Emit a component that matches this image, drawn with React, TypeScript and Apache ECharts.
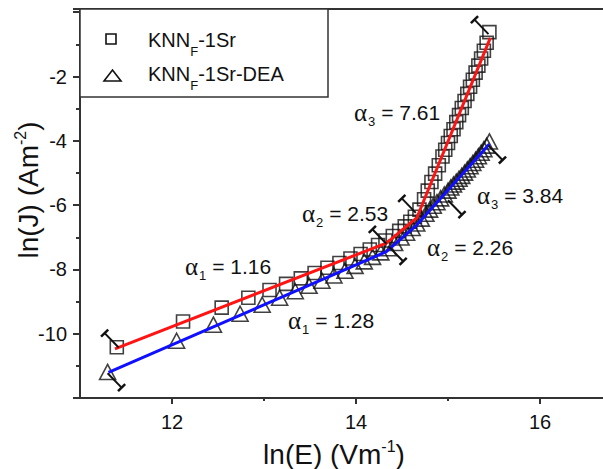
import React, { useEffect, useRef } from 'react';
import * as echarts from 'echarts';

// KNN_F-1Sr (squares)
const sqX = [11.40, 12.12, 12.54, 12.83, 13.06, 13.24, 13.40, 13.55, 13.69, 13.82, 13.94, 14.05, 14.15, 14.24, 14.32, 14.40, 14.47, 14.53, 14.59, 14.64, 14.69, 14.74, 14.78, 14.82, 14.86, 14.90, 14.94, 14.97, 15.00, 15.03, 15.06, 15.09, 15.12, 15.15, 15.18, 15.21, 15.24, 15.27, 15.30, 15.33, 15.36, 15.39, 15.42, 15.45];
const sqY = [-10.42, -9.62, -9.19, -8.88, -8.64, -8.45, -8.28, -8.11, -7.95, -7.80, -7.66, -7.52, -7.38, -7.24, -7.10, -6.96, -6.80, -6.66, -6.52, -6.36, -6.14, -5.82, -5.55, -5.28, -5.02, -4.76, -4.49, -4.28, -4.07, -3.85, -3.64, -3.42, -3.20, -2.98, -2.76, -2.54, -2.32, -2.10, -1.88, -1.66, -1.44, -1.20, -0.95, -0.62];

// KNN_F-1Sr-DEA (triangles)
const triX = [11.30, 12.05, 12.45, 12.74, 12.98, 13.17, 13.34, 13.49, 13.63, 13.76, 13.88, 13.99, 14.09, 14.18, 14.27, 14.35, 14.42, 14.49, 14.55, 14.61, 14.66, 14.71, 14.76, 14.80, 14.84, 14.88, 14.92, 14.96, 15.00, 15.03, 15.06, 15.09, 15.12, 15.15, 15.18, 15.21, 15.24, 15.27, 15.30, 15.33, 15.36, 15.39, 15.42, 15.45];
const triY = [-11.19, -10.22, -9.72, -9.38, -9.10, -8.88, -8.68, -8.51, -8.35, -8.19, -8.04, -7.89, -7.75, -7.61, -7.47, -7.34, -7.18, -7.01, -6.86, -6.71, -6.57, -6.42, -6.27, -6.14, -6.02, -5.91, -5.79, -5.67, -5.55, -5.45, -5.36, -5.27, -5.18, -5.09, -4.99, -4.89, -4.79, -4.69, -4.59, -4.48, -4.37, -4.26, -4.15, -4.02];

// piecewise linear fits
const redFitX = [11.38, 14.33, 14.66, 15.46];
const redFitY = [-10.47, -7.18, -6.40, -0.80];
const blueFitX = [11.31, 14.33, 14.66, 15.45];
const blueFitY = [-11.20, -7.45, -6.62, -4.10];

// fit-range markers
const redMarkX = [11.42, 14.33, 14.65, 15.44];
const redMarkY = [-10.43, -7.20, -6.24, -0.68];
const blueMarkX = [11.30, 14.36, 15.00, 15.44];
const blueMarkY = [-11.23, -7.30, -5.85, -4.15];

const xMajor = [12, 14, 16];
const xMinor = [13, 15];
const yLabels = [-10, -8, -6, -4, -2];

const SANS = 'Liberation Sans, Arial, sans-serif';
const SERIF = 'Liberation Serif, Times New Roman, serif';

const zip = (a: number[], b: number[]) => a.map((v, i) => [v, b[i]]);

function makeBar(api: any, dir: number) {
  const p = api.coord([api.value(0), api.value(1)]);
  const ux = 0.7 * dir;
  const uy = 0.72 * dir;
  const L = 20;
  const ex = p[0] + ux * L;
  const ey = p[1] + uy * L;
  const n = Math.hypot(ux, uy);
  const px = -uy / n;
  const py = ux / n;
  const h = 5;
  return {
    type: 'group',
    children: [
      { type: 'line', shape: { x1: p[0], y1: p[1], x2: ex, y2: ey }, style: { stroke: '#111', lineWidth: 2 } },
      { type: 'line', shape: { x1: ex - px * h, y1: ey - py * h, x2: ex + px * h, y2: ey + py * h }, style: { stroke: '#111', lineWidth: 2.5 } },
    ],
  };
}

function alphaText(sub: string, val: string, x: number, y: number) {
  return {
    type: 'text',
    x,
    y,
    z: 20,
    style: {
      text: `{a|α}{s|${sub}}{n| = ${val}}`,
      verticalAlign: 'middle',
      align: 'left',
      rich: {
        a: { fontFamily: SERIF, fontSize: 25, fill: '#111' },
        s: { fontFamily: SANS, fontSize: 13, fill: '#111', padding: [18, 0, 0, 1] },
        n: { fontFamily: SANS, fontSize: 21, fill: '#111' },
      },
    },
  };
}

export default function App() {
  const ref = useRef<HTMLDivElement>(null);
  useEffect(() => {
    document.body.style.margin = '0';
    if (!ref.current) return;
    const chart = echarts.init(ref.current, undefined, { renderer: 'svg' });
    const axisLineStyle = { color: '#333', width: 2 };
    const option: any = {
      animation: false,
      backgroundColor: '#fff',
      grid: {
        left: 80, top: 9, width: 552, height: 389, show: false,
        outerBoundsMode: 'none', containLabel: false,
      },
      xAxis: [
        {
          type: 'value', min: 11, max: 17, interval: 1, position: 'bottom',
          axisLine: { onZero: false, lineStyle: axisLineStyle },
          axisTick: { length: 6, lineStyle: axisLineStyle, customValues: xMajor },
          axisLabel: {
            customValues: xMajor, margin: 14, fontSize: 20, color: '#111', fontFamily: SANS,
            formatter: (v: number) => (xMajor.indexOf(v) >= 0 ? String(v) : ''),
          },
          splitLine: { show: false },
        },
        {
          type: 'value', min: 11, max: 17, interval: 1, position: 'bottom',
          axisLine: { show: false, onZero: false },
          axisTick: { length: 3, lineStyle: axisLineStyle, customValues: xMinor },
          axisLabel: { show: false },
          splitLine: { show: false },
        },
        {
          type: 'value', min: 11, max: 17, interval: 1, position: 'top',
          axisLine: { show: true, onZero: false, lineStyle: axisLineStyle },
          axisTick: { show: false },
          axisLabel: { show: false },
          splitLine: { show: false },
        },
      ],
      yAxis: {
        type: 'value', min: -12, max: 0.1, interval: 2,
        axisLine: { onZero: false, lineStyle: axisLineStyle },
        axisTick: { length: 7, lineStyle: axisLineStyle },
        minorTick: { show: true, splitNumber: 2, length: 4, lineStyle: axisLineStyle },
        axisLabel: {
          margin: 13, fontSize: 20, color: '#111', fontFamily: SANS,
          showMaxLabel: false,
          formatter: (v: number) => (yLabels.indexOf(v) >= 0 ? String(v) : ''),
        },
        splitLine: { show: false },
      },
      series: [
        {
          name: 'KNN_F-1Sr', type: 'scatter', data: zip(sqX, sqY), symbol: 'rect', symbolSize: 13, z: 2,
          itemStyle: { color: 'rgba(0,0,0,0)', borderColor: '#111', borderWidth: 1.6 },
        },
        {
          name: 'KNN_F-1Sr-DEA', type: 'scatter', data: zip(triX, triY), symbol: 'triangle', symbolSize: [16, 15], z: 2,
          itemStyle: { color: 'rgba(0,0,0,0)', borderColor: '#111', borderWidth: 1.6 },
        },
        {
          type: 'line', data: zip(redFitX, redFitY), symbol: 'none', z: 3,
          lineStyle: { color: '#ff1414', width: 3 },
        },
        {
          type: 'line', data: zip(blueFitX, blueFitY), symbol: 'none', z: 3,
          lineStyle: { color: '#1010ff', width: 3 },
        },
        {
          type: 'custom', data: zip(redMarkX, redMarkY), encode: { x: 0, y: 1 }, z: 5,
          renderItem: (_p: any, api: any) => makeBar(api, -1),
        },
        {
          type: 'custom', data: zip(blueMarkX, blueMarkY), encode: { x: 0, y: 1 }, z: 5,
          renderItem: (_p: any, api: any) => makeBar(api, 1),
        },
      ],
      graphic: [
        // keep the cropped right edge clean
        { type: 'rect', shape: { x: 595, y: 12, width: 10, height: 383 }, style: { fill: '#fff' }, z: 30, silent: true },
        // legend box
        { type: 'rect', shape: { x: 80, y: 9, width: 248, height: 88 }, style: { fill: '#fff', stroke: '#333', lineWidth: 1.5 }, z: 10 },
        { type: 'rect', shape: { x: 106, y: 34, width: 10, height: 10 }, style: { fill: 'none', stroke: '#111', lineWidth: 1.6 }, z: 11 },
        { type: 'polygon', shape: { points: [[104, 81], [112.5, 70], [121, 81]] }, style: { fill: 'none', stroke: '#111', lineWidth: 1.6 }, z: 11 },
        {
          type: 'text', x: 148, y: 40, z: 11,
          style: {
            text: '{m|KNN}{s|F}{m|-1Sr}', verticalAlign: 'middle',
            rich: {
              m: { fontFamily: SANS, fontSize: 20, fill: '#111' },
              s: { fontFamily: SANS, fontSize: 13, fill: '#111', padding: [22, 0, 0, 0] },
            },
          },
        },
        {
          type: 'text', x: 148, y: 74, z: 11,
          style: {
            text: '{m|KNN}{s|F}{m|-1Sr-DEA}', verticalAlign: 'middle',
            rich: {
              m: { fontFamily: SANS, fontSize: 20, fill: '#111' },
              s: { fontFamily: SANS, fontSize: 13, fill: '#111', padding: [22, 0, 0, 0] },
            },
          },
        },
        // axis titles
        {
          type: 'text', x: 334, y: 454, z: 11,
          style: {
            text: '{m|ln(E) (Vm}{p|-1}{m|)}', align: 'center', verticalAlign: 'middle',
            rich: {
              m: { fontFamily: SANS, fontSize: 28, fill: '#111' },
              p: { fontFamily: SANS, fontSize: 16, fill: '#111', padding: [0, 0, 16, 0] },
            },
          },
        },
        {
          type: 'text', x: 28, y: 190, rotation: Math.PI / 2, z: 11,
          style: {
            text: '{m|ln(J) (Am}{p|-2}{m|)}', align: 'center', verticalAlign: 'middle',
            rich: {
              m: { fontFamily: SANS, fontSize: 28, fill: '#111' },
              p: { fontFamily: SANS, fontSize: 16, fill: '#111', padding: [0, 0, 16, 0] },
            },
          },
        },
        // slope annotations
        alphaText('3', '7.61', 354, 112),
        alphaText('2', '2.53', 302, 213),
        alphaText('3', '3.84', 477, 195),
        alphaText('2', '2.26', 427, 247),
        alphaText('1', '1.16', 185, 266),
        alphaText('1', '1.28', 288, 320),
      ],
    };
    chart.setOption(option);
    return () => chart.dispose();
  }, []);
  return <div ref={ref} style={{ width: 603, height: 469 }} />;
}
